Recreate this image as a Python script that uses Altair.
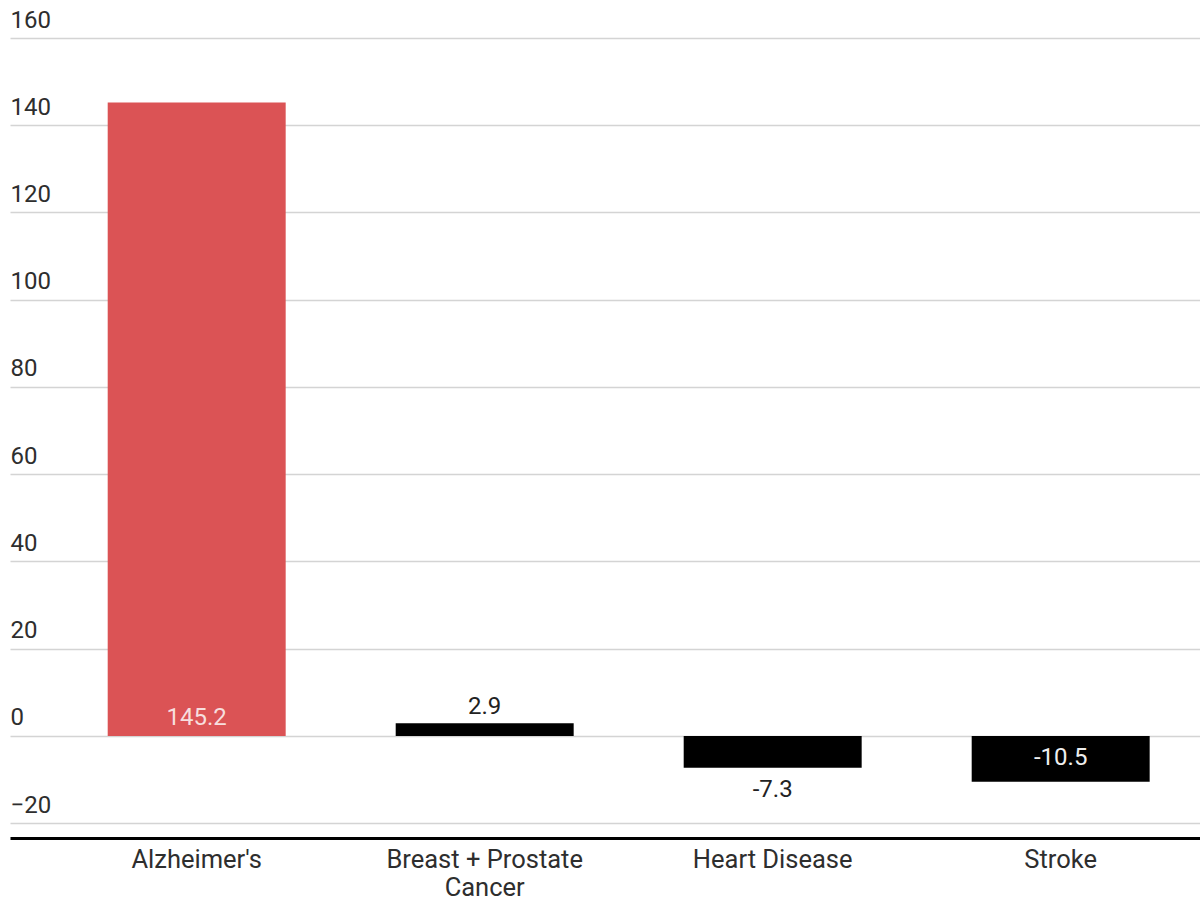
import altair as alt
import pandas as pd

categories = ["Alzheimer's", "Breast + Prostate\nCancer", "Heart Disease", "Stroke"]
values = [145.2, 2.9, -7.3, -10.5]
bar_colors = ["#DB5355", "#000000", "#000000", "#000000"]
y_ticks = [-20, 0, 20, 40, 60, 80, 100, 120, 140, 160]

df = pd.DataFrame({"category": categories, "value": values, "color": bar_colors})
df["label"] = df["value"].map(lambda v: f"{v:.1f}")

FONT = "Roboto"
FS = 24

x = alt.X(
    "category:N",
    sort=categories,
    title=None,
    scale=alt.Scale(paddingInner=0.382, paddingOuter=0.257, align=0.66),
    axis=alt.Axis(
        labelAngle=0,
        labelFont=FONT,
        labelFontSize=25.5,
        labelColor="#2e2e2e",
        labelPadding=9,
        labelLineHeight=28,
        labelLimit=400,
        labelExpr="split(datum.label, '\\n')",
        ticks=False,
        domain=True,
        domainColor="#000000",
        domainWidth=3,
        grid=False,
    ),
)

y_scale = alt.Scale(domain=[-23.4, 160], nice=False, zero=False)
y = alt.Y(
    "value:Q",
    title=None,
    scale=y_scale,
    axis=alt.Axis(
        values=y_ticks,
        labelFont=FONT,
        labelFontSize=24,
        labelColor="#2e2e2e",
        labelAlign="left",
        labelBaseline="bottom",
        labelPadding=0,
        labelOffset=-6,
        ticks=False,
        tickSize=0,
        domain=False,
        grid=True,
        gridColor="#d4d4d4",
        gridWidth=1.5,
    ),
)

base = alt.Chart(df)

bars = base.mark_bar().encode(
    x=x,
    y=y,
    y2=alt.datum(0),
    color=alt.Color("color:N", scale=None),
)

xcat = alt.X("category:N", sort=categories)

lbl_alz = base.transform_filter(alt.datum.category == categories[0]).mark_text(
    font=FONT, fontSize=FS, color="#f7dede", dy=-18, baseline="middle"
).encode(x=xcat, y=alt.datum(0), text="label:N")

lbl_bp = base.transform_filter(alt.datum.category == categories[1]).mark_text(
    font=FONT, fontSize=FS, color="#222222", dy=-16, baseline="middle"
).encode(x=xcat, y="value:Q", text="label:N")

lbl_hd = base.transform_filter(alt.datum.category == categories[2]).mark_text(
    font=FONT, fontSize=FS, color="#222222", dy=22, baseline="middle"
).encode(x=xcat, y="value:Q", text="label:N")

lbl_st = base.transform_filter(alt.datum.category == categories[3]).mark_text(
    font=FONT, fontSize=FS, color="#eeeeee", dy=-24, baseline="middle"
).encode(x=xcat, y="value:Q", text="label:N")

chart = (
    alt.layer(bars, lbl_alz, lbl_bp, lbl_hd, lbl_st)
    .properties(
        width=1190,
        height=800,
        autosize=alt.AutoSizeParams(type="none"),
        padding={"left": 10, "top": 38, "right": 0, "bottom": 64},
        background="#ffffff",
    )
    .configure_view(stroke=None)
)

chart.save("out.html", embed_options={"renderer": "svg", "actions": False})
